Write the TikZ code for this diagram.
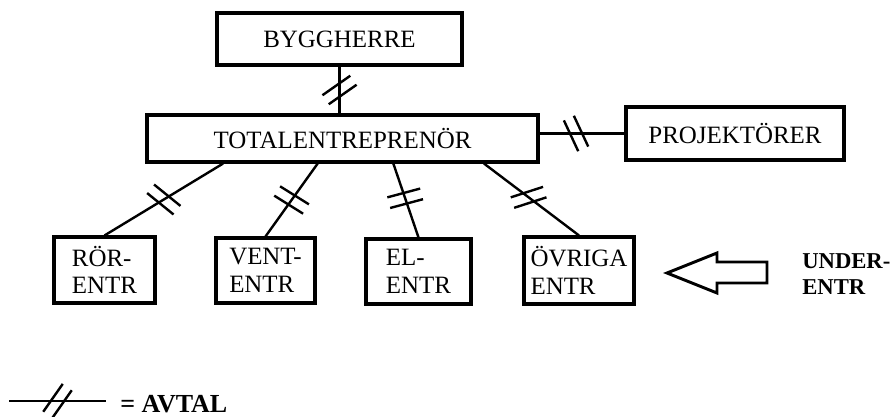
\documentclass[tikz,border=0pt]{standalone}
\usepackage{fontspec}
\setmainfont{Liberation Serif}
\usetikzlibrary{positioning, calc}

\tikzset{
  % Boxes for the parties
  partbox/.style={
    rectangle, draw=black, line width=2.3pt, fill=white,
    font=\fontsize{18.7}{20.8}\selectfont, inner sep=0pt
  },
  entrbox/.style={partbox, align=left},
  % Contract lines
  link/.style={draw=black, line width=1.8pt},
  avtal/.pic={
    \draw[line width=1.8pt] (-17,-5.5) -- (17,-5.5);
    \draw[line width=1.8pt] (-17,5.5) -- (17,5.5);
  },
  boldlabel/.style={font=\bfseries\fontsize{17}{19.5}\selectfont, inner sep=0pt}
}

\begin{document}
\begin{tikzpicture}[x=0.75pt, y=-0.75pt]
  \useasboundingbox (0,0) rectangle (896,417);

  % Top level
  \node[partbox, minimum width=183.75pt, minimum height=39pt] (bygg) at (339.5,39) {BYGGHERRE};
  \node[partbox, minimum width=293.25pt, minimum height=35.25pt] (total) at (342.5,138.5) {TOTALENTREPRENÖR};
  \node[partbox, minimum width=163.5pt, minimum height=39.75pt] (proj) at (735,133.5) {PROJEKTÖRER};

  % Subcontractors
  \node[entrbox, minimum width=75.75pt, minimum height=49.5pt] (ror) at (104.5,270) {RÖR-\\ENTR};
  \node[entrbox, minimum width=74.25pt, minimum height=48.75pt] (vent) at (265.5,270.5) {VENT-\\ENTR};
  \node[entrbox, minimum width=78.75pt, minimum height=48.75pt] (el) at (418.5,271.5) {EL-\\ENTR};
  \node[entrbox, minimum width=82.5pt, minimum height=50.25pt] (ovr) at (579,270.5) {ÖVRIGA\\ENTR};

  % Contracts
  \draw[link] (bygg.south) -- (bygg.south |- total.north) pic[pos=0.5, rotate=35] {avtal};
  \draw[link] (total.east |- proj.west) -- (proj.west) pic[pos=0.43, rotate=-65] {avtal};
  \draw[link] ($(total.south west)!0.197!(total.south east)$) -- (ror.north) pic[pos=0.5, rotate=-39] {avtal};
  \draw[link] ($(total.south west)!0.437!(total.south east)$) -- (vent.north) pic[pos=0.5, rotate=-32] {avtal};
  \draw[link] ($(total.south west)!0.629!(total.south east)$) -- (el.north) pic[pos=0.47, rotate=15] {avtal};
  \draw[link] ($(total.south west)!0.859!(total.south east)$) -- (ovr.north) pic[pos=0.47, rotate=18] {avtal};

  % Hollow arrow and label
  \draw[line width=2.2pt, line join=miter] (667,273) -- (717,253) -- (717,262) -- (767,262)
    -- (767,283) -- (717,283) -- (717,293) -- cycle;
  \node[boldlabel, anchor=west, align=left] (under) at (802,274) {UNDER-\\ENTR};

  % Legend
  \coordinate (legA) at (9,401);
  \coordinate (legB) at (106,401);
  \draw[link] (legA) -- (legB) pic[pos=0.5, rotate=55] {avtal};
  \node[boldlabel, font=\bfseries\fontsize{19.5}{22}\selectfont, anchor=west] (legtext) at (120,404) {= AVTAL};
\end{tikzpicture}
\end{document}
